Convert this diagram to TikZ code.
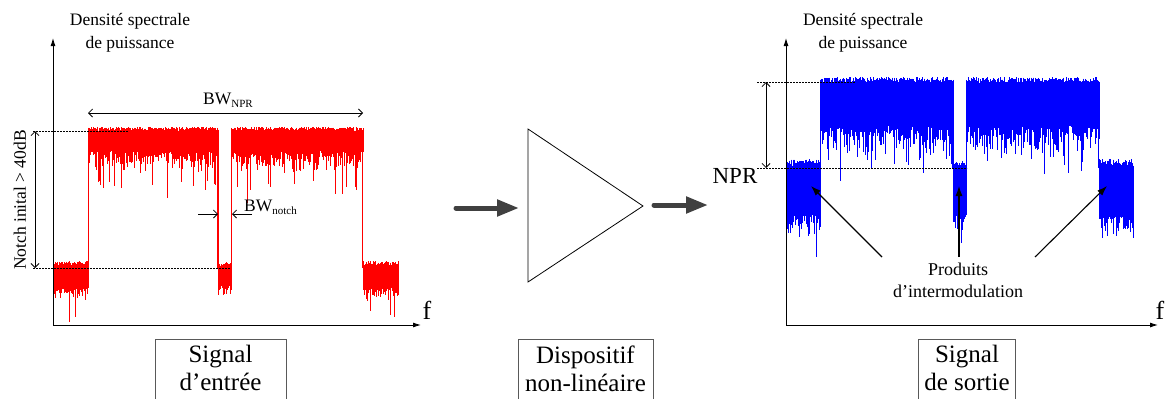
\documentclass[tikz,border=0pt]{standalone}
\usepackage{fontspec}
\setmainfont{Liberation Serif}
\usetikzlibrary{arrows.meta}
\newcommand{\nband}[7]{% x0 x1 top jitter d0 dv spike
  \pgfmathtruncatemacro{\nbN}{(#2-#1)/0.5}
  \foreach \k in {0,...,\nbN}{
    \pgfmathsetmacro{\nbX}{#1+\k*0.5}
    \pgfmathsetmacro{\nbA}{#3-#4*rnd}
    \pgfmathsetmacro{\nbB}{#3+#5+#6*rnd*rnd+#7*(rnd>0.95)}
    \draw (\nbX,\nbA) -- (\nbX,\nbB);
  }}
\begin{document}
\begin{tikzpicture}[x=1pt,y=-1pt,
  lbl/.style={inner sep=0pt,font=\fontsize{17.5}{23}\selectfont,align=center},
  biglbl/.style={inner sep=0pt,font=\fontsize{26}{26}\selectfont},
  boxlbl/.style={draw=black!65,line width=0.8pt,inner xsep=6pt,inner ysep=6pt,align=center,
     font=\fontsize{25}{28}\selectfont,anchor=north},
  axis/.style={line width=0.9pt,-{Latex[length=8pt,width=5pt]}},
  dim/.style={line width=0.8pt,{Straight Barb[length=4pt,width=8pt]}-{Straight Barb[length=4pt,width=8pt]}},
  dimone/.style={line width=0.8pt,-{Straight Barb[length=4pt,width=8pt]}},
  guide/.style={line width=0.6pt,dash pattern=on 2pt off 1pt},
  flow/.style={line width=5pt,line cap=round,draw=black!75,-{Triangle[length=22pt,width=16pt]}},
  pointer/.style={line width=1.1pt,-{Latex[length=10pt,width=7pt]}},
  noise/.style={line width=0.9pt}
]
\clip (0,0) rectangle (1165,399);
\fill[white] (0,0) rectangle (1165,399);
\pgfmathsetseed{11}

% ---------- left panel ----------
\coordinate (lo) at (53,325);
\coordinate (ly) at (53,38);
\coordinate (lx) at (421,325);
\begin{scope}[noise,red]
\nband{53}{88}{266}{5}{22}{15}{20}
\nband{88}{218}{131}{4}{20}{25}{30}
\nband{218}{231}{266}{4}{18}{15}{22}
\nband{231}{363}{131}{4}{20}{25}{30}
\nband{363}{398}{266}{5}{22}{15}{20}
\draw[line width=1.1pt] (88.5,131)--(88.5,268) (218,131)--(218,268) (231.5,131)--(231.5,268) (362.5,131)--(362.5,268);
\end{scope}
\draw[axis] (lo) -- (ly);
\draw[axis] (lo) -- (lx);
\node[lbl] (ldsp) at (130,33) {Densité spectrale\\de puissance};
\node[biglbl] (lf) at (427,310) {f};
\coordinate (lt1) at (33,131); \coordinate (lt2) at (128,131);
\coordinate (lb1) at (33,268); \coordinate (lb2) at (230,268);
\draw[guide] (lt1) -- (lt2);
\draw[guide] (lb1) -- (lb2);
\coordinate (ld1) at (35,131); \coordinate (ld2) at (35,268);
\draw[dim] (ld1) -- (ld2);
\node[lbl,rotate=90] (lnotch) at (20,200) {Notch inital > 40dB};
\coordinate (bw1) at (88,113); \coordinate (bw2) at (363,113);
\draw[dim] (bw1) -- (bw2);
\node[lbl] (bwnpr) at (228,100) {BW\raisebox{-3pt}{\fontsize{11}{11}\selectfont NPR}};
\coordinate (bn1) at (198,214); \coordinate (bn2) at (218,214);
\coordinate (bn3) at (252,214); \coordinate (bn4) at (232,214);
\draw[dimone] (bn1) -- (bn2);
\draw[dimone] (bn3) -- (bn4);
\node[lbl,anchor=west] (bwnotch) at (244,207) {BW\raisebox{-3pt}{\fontsize{11}{11}\selectfont notch}};
\node[boxlbl,minimum width=131pt] (in) at (220.5,339) {Signal\\d’entrée\rule[-20pt]{0pt}{20pt}};

% ---------- middle ----------
\coordinate (a1s) at (456,208); \coordinate (a1e) at (519,208);
\draw[flow] (a1s) -- (a1e);
\coordinate (tl) at (528,129); \coordinate (tb) at (528,282); \coordinate (tr) at (643,206);
\draw[line width=0.8pt] (tl) -- (tr) -- (tb) -- cycle;
\coordinate (a2s) at (654,205); \coordinate (a2e) at (708,205);
\draw[flow] (a2s) -- (a2e);
\node[boxlbl,minimum width=135pt] (dev) at (585.5,339) {Dispositif\\non-linéaire\rule[-20pt]{0pt}{20pt}};

% ---------- right panel ----------
\coordinate (ro) at (786,325);
\coordinate (ry) at (786,38);
\coordinate (rx) at (1158,325);
\begin{scope}[noise,blue]
\nband{786}{820}{166}{7}{48}{25}{20}
\nband{820}{953}{83}{6}{42}{40}{35}
\nband{953}{966}{166}{5}{48}{30}{35}
\nband{966}{1099}{83}{6}{42}{40}{35}
\nband{1099}{1133}{166}{7}{50}{30}{25}
\draw[line width=1.1pt] (820.5,83)--(820.5,168) (953,83)--(953,168) (966.5,83)--(966.5,168) (1098.5,83)--(1098.5,168);
\end{scope}
\draw[axis] (ro) -- (ry);
\draw[axis] (ro) -- (rx);
\node[lbl] (rdsp) at (863,33) {Densité spectrale\\de puissance};
\node[biglbl] (rf) at (1160,310) {f};
\coordinate (rt1) at (757,82); \coordinate (rt2) at (855,82);
\coordinate (rb1) at (757,168); \coordinate (rb2) at (967,168);
\draw[guide] (rt1) -- (rt2);
\draw[guide] (rb1) -- (rb2);
\coordinate (rd1) at (766,82); \coordinate (rd2) at (766,168);
\draw[dim] (rd1) -- (rd2);
\node[inner sep=0pt,font=\fontsize{23}{23}\selectfont] (npr) at (735,176) {NPR};
\node[lbl,font=\fontsize{18}{22}\selectfont] (prod) at (958,280) {Produits\\d’intermodulation};
\coordinate (p1s) at (882,257); \coordinate (p1e) at (811,186);
\coordinate (p2s) at (959,257); \coordinate (p2e) at (959,186);
\coordinate (p3s) at (1035,257); \coordinate (p3e) at (1107,186);
\draw[pointer] (p1s) -- (p1e);
\draw[pointer] (p2s) -- (p2e);
\draw[pointer] (p3s) -- (p3e);
\node[boxlbl,minimum width=92pt] (out) at (967,339) {Signal\\de sortie\rule[-20pt]{0pt}{20pt}};
\end{tikzpicture}
\end{document}
